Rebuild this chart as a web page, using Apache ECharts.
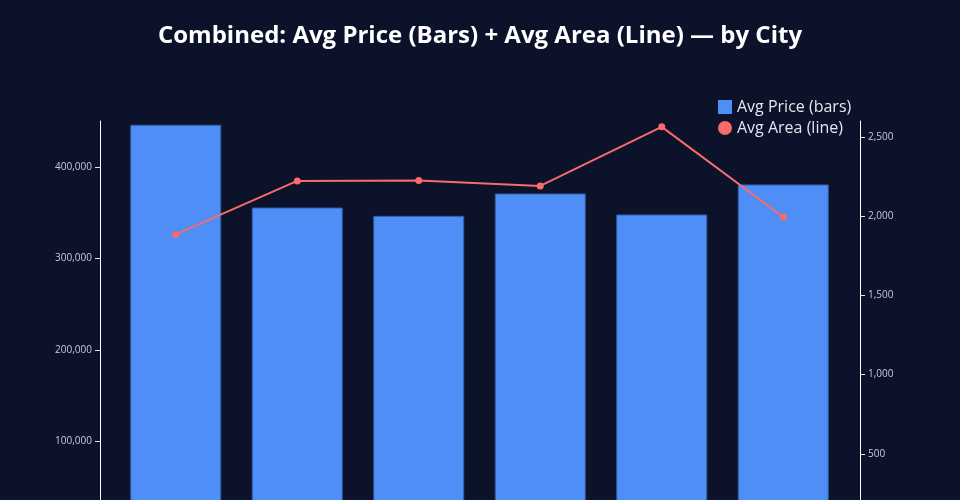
<!DOCTYPE html>
<html><head><meta charset="utf-8">
<script src="https://cdn.jsdelivr.net/npm/echarts@6/dist/echarts.min.js"></script>
<style>html,body{margin:0;padding:0;background:#0b1229;}#c{width:960px;height:500px;}</style>
</head><body><div id="c"></div>
<script>
const cities = ["City A", "City B", "City C", "City D", "City E", "City F"];
const avgPrice = [445900, 355500, 346400, 370800, 347900, 380700];
const avgArea = [1884, 2222, 2224, 2190, 2563, 1994];
const priceTicks = [0, 100000, 200000, 300000, 400000];
const areaTicks = [0, 500, 1000, 1500, 2000, 2500];

const chart = echarts.init(document.getElementById('c'));
const fmt = v => v.toLocaleString('en-US');
const axisCommon = {
  axisLine: {show: true, lineStyle: {color: '#ffffff', width: 1}},
  splitLine: {show: false},
  axisLabel: {color: '#c8ccd6', fontSize: 10, fontFamily: 'Open Sans', formatter: fmt, margin: 8},
  axisTick: {show: true, length: 5, lineStyle: {color: '#e6e8ee', width: 1}}
};
chart.setOption({
  backgroundColor: '#0b1229',
  animation: false,
  title: {
    text: 'Combined: Avg Price (Bars) + Avg Area (Line) — by City',
    left: 'center', top: 19,
    textStyle: {color: '#ffffff', fontSize: 24, fontWeight: 'bold', fontFamily: 'Open Sans'}
  },
  legend: {
    orient: 'vertical', left: 713, top: 94, itemGap: 5,
    itemWidth: 14, itemHeight: 14,
    textStyle: {color: '#e2e6ee', fontSize: 16, fontFamily: 'Open Sans'},
    data: [
      {name: 'Avg Price (bars)', icon: 'path://M1,1L13,1L13,13L1,13Z', itemStyle: {borderWidth: 0}},
      {name: 'Avg Area (line)', icon: 'circle'}
    ]
  },
  grid: {left: 115, width: 729, top: 121, height: 412, containLabel: false, outerBoundsMode: 'none'},
  xAxis: {
    type: 'category', data: cities, boundaryGap: true,
    axisLine: {show: false}, axisTick: {show: false},
    axisLabel: {color: '#c8ccd6'}
  },
  yAxis: [
    Object.assign({}, axisCommon, {
      type: 'value', min: 0, max: 450000, position: 'left', offset: 15,
      axisLabel: Object.assign({}, axisCommon.axisLabel, {customValues: priceTicks.slice(1)}),
      axisTick: Object.assign({}, axisCommon.axisTick, {customValues: priceTicks.slice(1)})
    }),
    Object.assign({}, axisCommon, {
      type: 'value', min: 0, max: 2600, position: 'right', offset: 16,
      axisLabel: Object.assign({}, axisCommon.axisLabel, {customValues: areaTicks.slice(1)}),
      axisTick: Object.assign({}, axisCommon.axisTick, {customValues: areaTicks.slice(1)})
    })
  ],
  series: [
    {
      name: 'Avg Price (bars)', type: 'bar', yAxisIndex: 0, data: avgPrice,
      barWidth: 91,
      itemStyle: {color: '#4f8ef7', borderColor: '#2f5ea8', borderWidth: 1}
    },
    {
      name: 'Avg Area (line)', type: 'line', yAxisIndex: 1, data: avgArea,
      symbol: 'circle', symbolSize: 7,
      lineStyle: {color: '#f76b6b', width: 2},
      itemStyle: {color: '#f76b6b'}
    }
  ]
});
</script></body></html>
